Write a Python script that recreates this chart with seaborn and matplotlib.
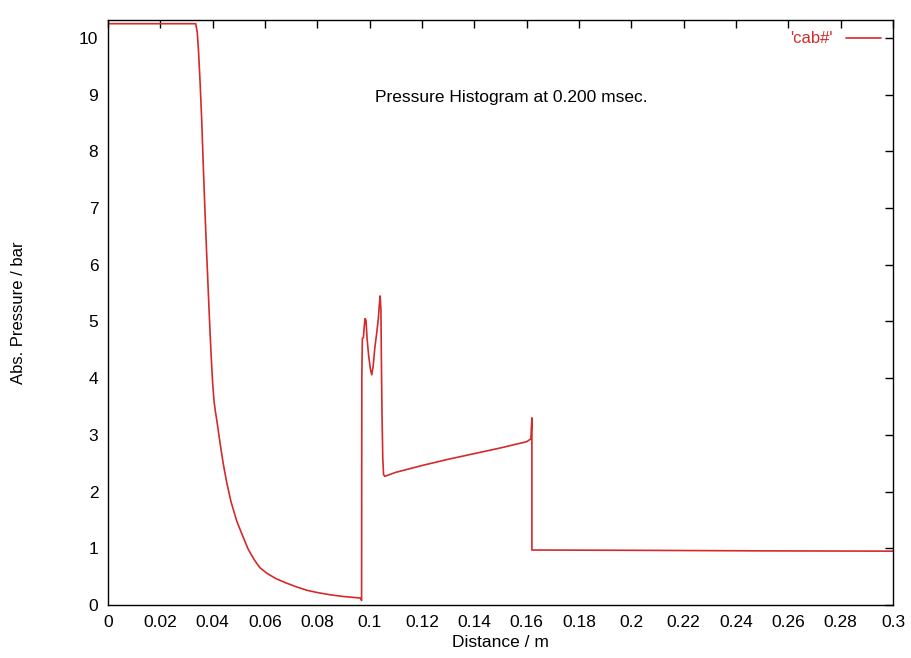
import numpy as np
import pandas as pd
import matplotlib
matplotlib.use("Agg")
import matplotlib.pyplot as plt
import seaborn as sns

# Data (distance in m, pressure in bar)
distance = [0.0, 0.0335, 0.0341, 0.0346, 0.0352, 0.0358, 0.0364, 0.0370, 0.0376,
            0.0382, 0.0388, 0.0394, 0.0400, 0.0405, 0.0410, 0.0416, 0.0422, 0.0430,
            0.0440, 0.0454, 0.0470, 0.0492, 0.0510, 0.0536, 0.0560, 0.0580, 0.0607,
            0.0640, 0.0680, 0.0720, 0.0760, 0.0800, 0.0850, 0.0900, 0.0950, 0.0966,
            0.0969, 0.0970, 0.0972, 0.0976, 0.0979, 0.0982, 0.0986, 0.0990, 0.0996,
            0.1003, 0.1008, 0.1013, 0.1020, 0.1027, 0.1033, 0.1037, 0.1040, 0.1043,
            0.1045, 0.1047, 0.1050, 0.1053, 0.1058, 0.1070, 0.1100, 0.1200, 0.1300,
            0.1400, 0.1500, 0.1600, 0.1616, 0.1620, 0.1620, 0.2000, 0.2500, 0.3000]
pressure = [10.25, 10.25, 10.1, 9.75, 9.2, 8.55, 7.75, 7.0, 6.3,
            5.65, 5.0, 4.4, 3.9, 3.6, 3.42, 3.25, 3.05, 2.8,
            2.5, 2.15, 1.82, 1.48, 1.27, 0.98, 0.79, 0.66, 0.56,
            0.47, 0.39, 0.32, 0.26, 0.22, 0.18, 0.15, 0.13, 0.12,
            0.08, 4.05, 4.70, 4.72, 4.90, 5.05, 5.02, 4.70, 4.40,
            4.15, 4.06, 4.20, 4.55, 4.80, 5.05, 5.30, 5.45, 5.20,
            4.20, 3.40, 2.60, 2.30, 2.27, 2.29, 2.34, 2.46, 2.57,
            2.67, 2.77, 2.88, 2.93, 3.30, 0.97, 0.965, 0.955, 0.95]

x_ticks = [0, 0.02, 0.04, 0.06, 0.08, 0.1, 0.12, 0.14, 0.16, 0.18, 0.2,
           0.22, 0.24, 0.26, 0.28, 0.3]
x_tick_labels = ["0", "0.02", "0.04", "0.06", "0.08", "0.1", "0.12", "0.14", "0.16",
                 "0.18", "0.2", "0.22", "0.24", "0.26", "0.28", "0.3"]
y_ticks = [0, 1, 2, 3, 4, 5, 6, 7, 8, 9, 10]

df = pd.DataFrame({"Distance": distance, "Pressure": pressure})

sns.set_style("white")
plt.rcParams["font.family"] = ["Liberation Sans", "DejaVu Sans"]

fig = plt.figure(figsize=(9.11, 6.58), dpi=100)
ax = fig.add_axes([0.1186, 0.0805, 0.8616, 0.8895])

line_red = "#d42a2a"
sns.lineplot(data=df, x="Distance", y="Pressure", sort=False, estimator=None,
             color=line_red, linewidth=1.2, ax=ax, label="'cab#'")

ax.set_xlim(0, 0.3)
ax.set_ylim(0, 10.32)
ax.set_xticks(x_ticks)
ax.set_xticklabels(x_tick_labels)
ax.set_yticks(y_ticks)

# gnuplot-style inward ticks on all four sides
ax.tick_params(direction="in", length=6, width=1, top=True, right=True,
               labelsize=12.5, colors="black", pad=7)
for s in ax.spines.values():
    s.set_color("black")
    s.set_linewidth(1)

ax.set_xlabel("Distance / m", fontsize=12.5, labelpad=4, color="black")
ax.set_ylabel("Abs. Pressure / bar", fontsize=12, labelpad=38, color="black")

ax.text(0.154, 8.95, "Pressure Histogram at 0.200 msec.", fontsize=12.5,
        ha="center", va="center", color="black")

leg = ax.legend(loc="upper right", frameon=False, markerfirst=False,
                labelcolor="linecolor", fontsize=12, handlelength=2.1,
                borderaxespad=0.3)

fig.savefig("out.png", dpi=100, facecolor="white")
